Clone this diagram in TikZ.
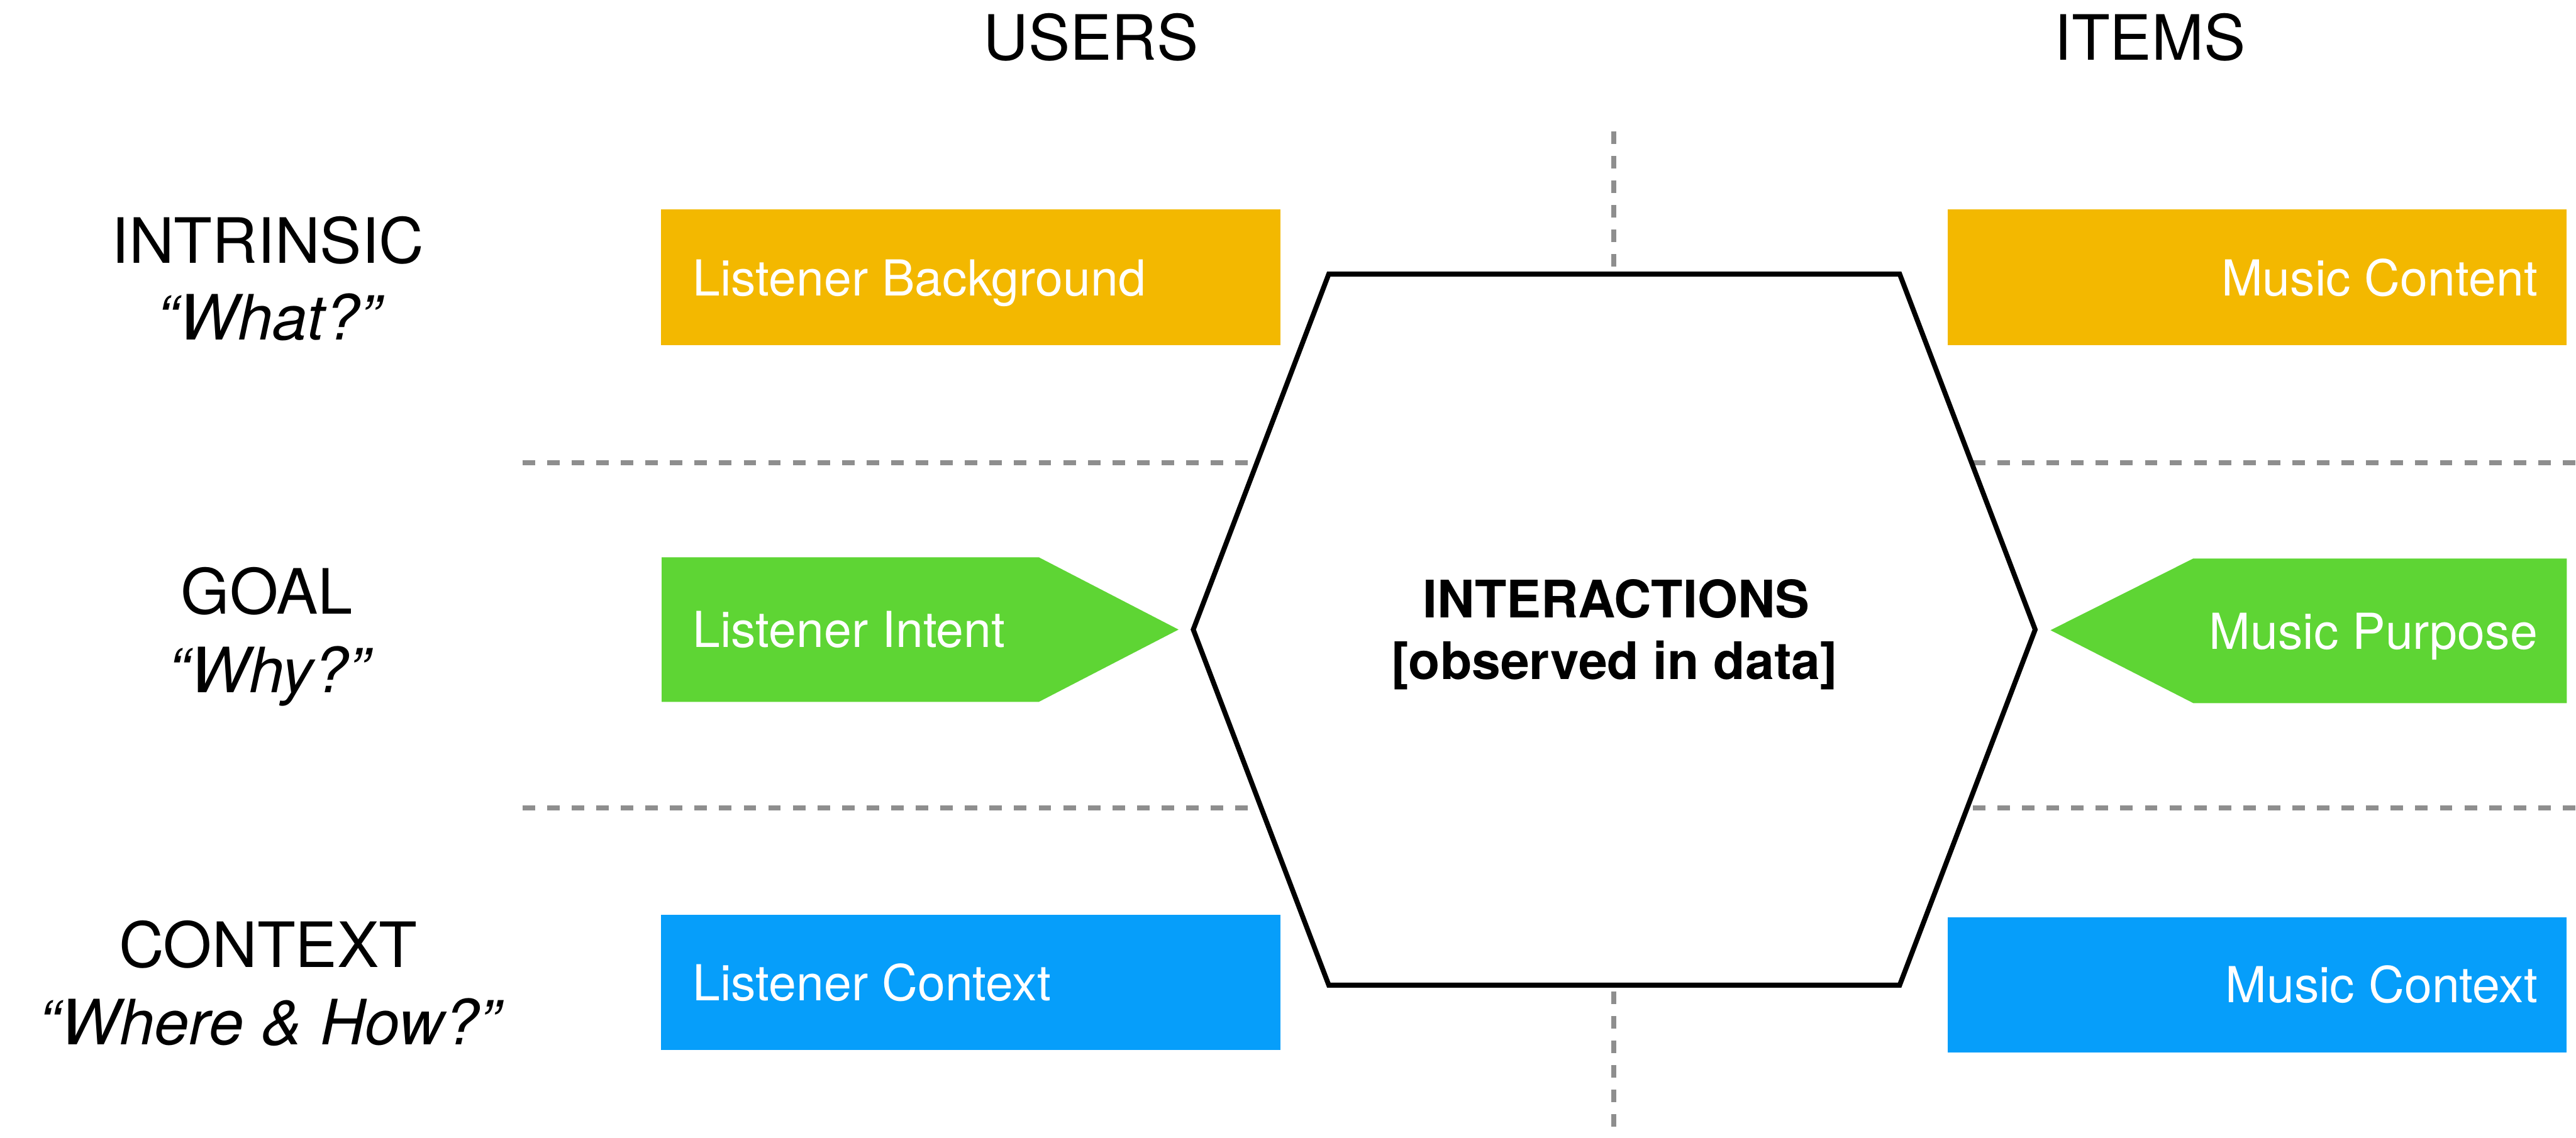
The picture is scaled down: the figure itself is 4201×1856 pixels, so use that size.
\documentclass[tikz,border=0pt]{standalone}
\usepackage{fontspec}
\setmainfont{TeX Gyre Heros}
\definecolor{ochre}{HTML}{F3B800}
\definecolor{leaf}{HTML}{5ED534}
\definecolor{sky}{HTML}{069EFA}
\definecolor{dashgray}{HTML}{8E8E8E}
\begin{document}
\begin{tikzpicture}[x=0.01cm,y=-0.01cm,
  heading/.style={font=\fontsize{29}{34}\selectfont, anchor=base, inner sep=0pt},
  question/.style={font=\fontsize{29}{34}\selectfont\itshape, anchor=base, inner sep=0pt},
  boxlabel/.style={font=\fontsize{23}{27}\selectfont, text=white, inner sep=0pt},
  centrelabel/.style={font=\fontsize{24}{28}\selectfont\bfseries, anchor=base, inner sep=0pt},
  gridline/.style={dashgray, line width=2.4pt, dash pattern=on 5.8pt off 5.6pt},
  hexline/.style={black, line width=2.3pt, line join=miter, fill=white}]
\useasboundingbox (0,0) rectangle (4201,1856);

% column and row separators
\draw[gridline] (852,755) -- (4201,755);
\draw[gridline] (852,1318) -- (4201,1318);
\draw[gridline] (2632,214) -- (2632,1856);

% central hexagon
\coordinate (hexL)  at (1946,1027);
\coordinate (hexTL) at (2167,447);
\coordinate (hexTR) at (3098,447);
\coordinate (hexR)  at (3319,1027);
\coordinate (hexBR) at (3098,1607);
\coordinate (hexBL) at (2167,1607);
\draw[hexline] (hexL) -- (hexTL) -- (hexTR) -- (hexR) -- (hexBR) -- (hexBL) -- cycle;
\node[centrelabel] (inter) at (2636,1008) {INTERACTIONS};
\node[centrelabel] (observed) at (2633,1108) {[observed in data]};

% column headings
\node[heading] (users) at (1779,98) {USERS};
\node[heading] (items) at (3506,98) {ITEMS};

% row headings
\node[heading] (intrinsic) at (437,429) {INTRINSIC};
\node[question] (what) at (438,554) {“What?”};
\node[heading] (goal) at (435,1002) {GOAL};
\node[question] (why) at (438,1130) {“Why?”};
\node[heading] (context) at (437,1578) {CONTEXT};
\node[question] (wherehow) at (439,1704) {“Where \& How?”};

% intrinsic row
\fill[ochre] (1078,342) rectangle (2088,563);
\fill[ochre] (3176,342) rectangle (4186,563);
\node[boxlabel, anchor=base west] (lbg) at (1129,483) {Listener Background};
\node[boxlabel, anchor=base east] (mcontent) at (4139,483) {Music Content};

% goal row
\fill[leaf] (1079,909) -- (1694,909) -- (1922,1027) -- (1694,1145) -- (1079,1145) -- cycle;
\fill[leaf] (4186,911) -- (3577,911) -- (3344,1028) -- (3577,1147) -- (4186,1147) -- cycle;
\node[boxlabel, anchor=base west] (lintent) at (1129,1056) {Listener Intent};
\node[boxlabel, anchor=base east] (mpurpose) at (4139,1059) {Music Purpose};

% context row
\fill[sky] (1078,1492) rectangle (2088,1713);
\fill[sky] (3176,1496) rectangle (4186,1717);
\node[boxlabel, anchor=base west] (lcontext) at (1129,1632) {Listener Context};
\node[boxlabel, anchor=base east] (mcontext) at (4139,1635) {Music Context};
\end{tikzpicture}
\end{document}
